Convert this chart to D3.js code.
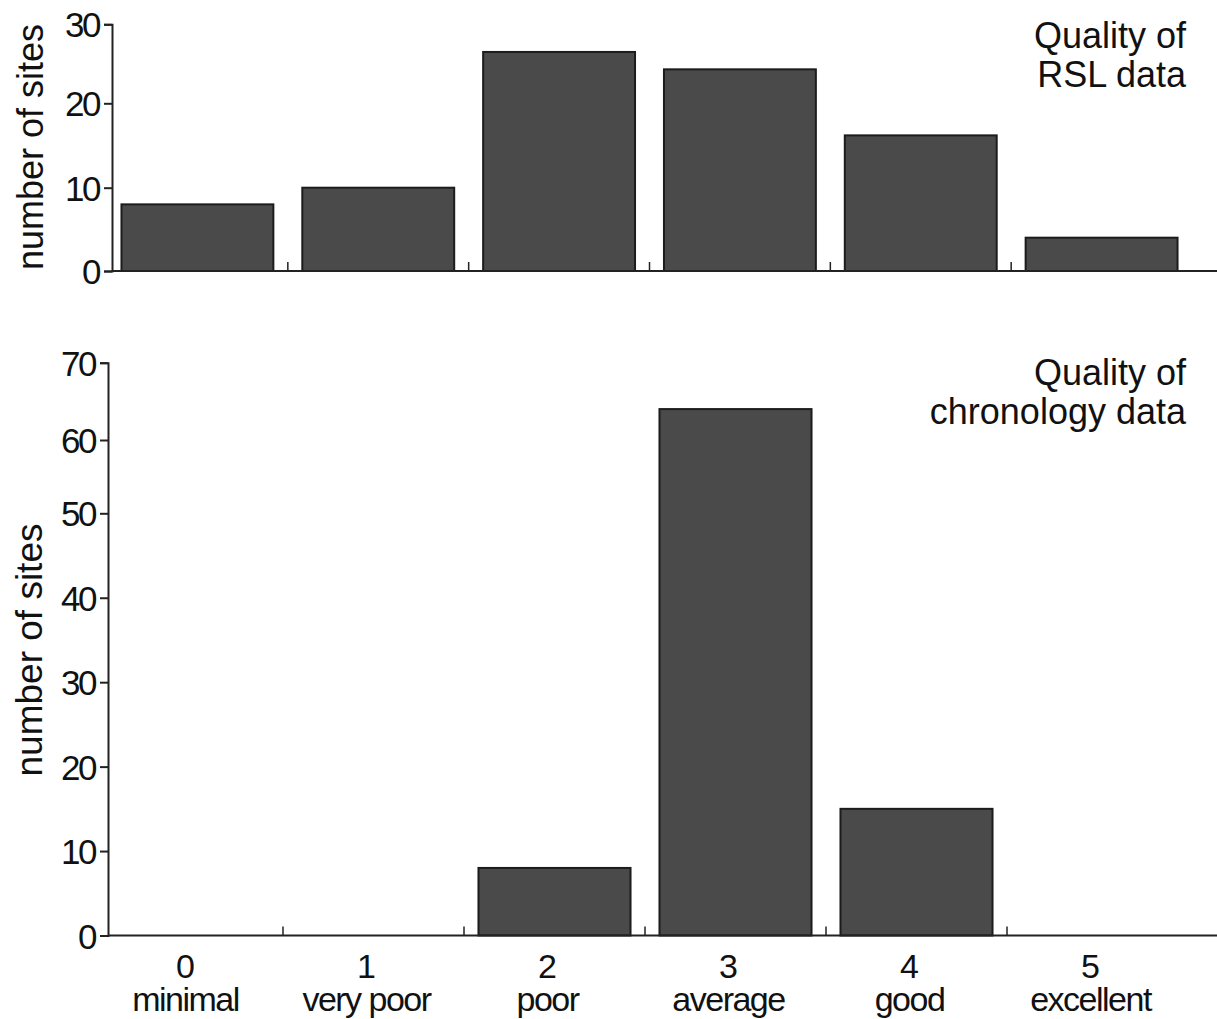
<!DOCTYPE html>
<html><head><meta charset="utf-8">
<script src="https://cdn.jsdelivr.net/npm/d3@7"></script>
<style>
body{margin:0;background:#fff}
text{font-family:"Liberation Sans",Arial,sans-serif;fill:#111}
</style>
</head><body><svg id="c" width="1217" height="1019"></svg>
<script>
const categories = ["0","1","2","3","4","5"];
const categoryNames = ["minimal","very poor","poor","average","good","excellent"];
const rslValues = [8,10,26.5,24.3,16.2,4];
const chronologyValues = [0,0,8,64,15,0];
const rslTicks = [0,10,20,30];
const chronologyTicks = [0,10,20,30,40,50,60,70];
const rslTitle = ["Quality of","RSL data"];
const chronologyTitle = ["Quality of","chronology data"];
const yTitle = "number of sites";

const svg = d3.select("#c");
const barFill = "#4a4a4a", barStroke = "#1c1c1c", axisColor = "#222";

function panel(cfg){
  const g = svg.append("g");
  const x = d3.scaleBand().domain(categories).range(cfg.xRange).paddingInner(0.16).paddingOuter(0.08);
  const y = d3.scaleLinear().domain(cfg.yDomain).range(cfg.yRange);
  const y0 = y(0);
  g.selectAll("rect.bar").data(cfg.values).join("rect")
    .attr("class","bar")
    .attr("x",(d,i)=>x(categories[i]))
    .attr("width",x.bandwidth())
    .attr("y",d=>y(d))
    .attr("height",d=>y0-y(d))
    .attr("fill",barFill).attr("stroke",barStroke).attr("stroke-width",2);
  g.append("line").attr("x1",cfg.axisX).attr("x2",1217).attr("y1",y0).attr("y2",y0)
    .attr("stroke",axisColor).attr("stroke-width",2);
  const bounds = categories.slice(1).map(c=>x(c)-x.step()*x.paddingInner()/2);
  g.selectAll("line.xt").data(bounds).join("line").attr("class","xt")
    .attr("x1",d=>d).attr("x2",d=>d).attr("y1",y0).attr("y2",y0-9)
    .attr("stroke",axisColor).attr("stroke-width",1.5);
  const ya = g.append("g").attr("transform",`translate(${cfg.axisX},0)`)
    .call(d3.axisLeft(y).tickValues(cfg.ticks).tickSize(8).tickPadding(5).tickFormat(d3.format("d")));
  ya.select(".domain").attr("stroke",axisColor).attr("stroke-width",2);
  ya.selectAll(".tick line").attr("stroke",axisColor).attr("stroke-width",2);
  ya.selectAll(".tick text").attr("font-size",35).attr("fill","#111")
    .attr("font-family","'Liberation Sans',Arial,sans-serif").attr("letter-spacing",-2.5).attr("dy","0.36em");
  g.append("text").attr("transform",`translate(${cfg.titleX},${cfg.titleY}) rotate(-90)`)
    .attr("text-anchor","middle").attr("font-size",cfg.yTitleSize).text(yTitle);
  const t = g.append("text").attr("text-anchor","end").attr("font-size",36);
  cfg.title.forEach((s,i)=>t.append("tspan").attr("x",1186).attr("y",cfg.titleTop + i*39).text(s));
  return {x,y,g};
}

panel({values:rslValues,ticks:rslTicks,title:rslTitle,xRange:[107,1192],
  yDomain:[0,10,20,30],yRange:[271,187.7,103.3,24.3],axisX:112,titleX:43,titleY:147,titleTop:48,yTitleSize:36});

const p2 = panel({values:chronologyValues,ticks:chronologyTicks,title:chronologyTitle,xRange:[102,1188],
  yDomain:[0,50,60,70],yRange:[935.5,513.3,440,362.7],axisX:108,titleX:42,titleY:650,titleTop:385,yTitleSize:37});

const labelShift = -7;
p2.g.selectAll("text.cn").data(categories).join("text").attr("class","cn")
  .attr("x",d=>p2.x(d)+p2.x.bandwidth()/2+labelShift).attr("y",978)
  .attr("text-anchor","middle").attr("font-size",34).text(d=>d);
p2.g.selectAll("text.cl").data(categoryNames).join("text").attr("class","cl")
  .attr("x",(d,i)=>p2.x(categories[i])+p2.x.bandwidth()/2+labelShift).attr("y",1011)
  .attr("text-anchor","middle").attr("font-size",34).attr("letter-spacing",-1.5).text(d=>d);
</script>
</body></html>
